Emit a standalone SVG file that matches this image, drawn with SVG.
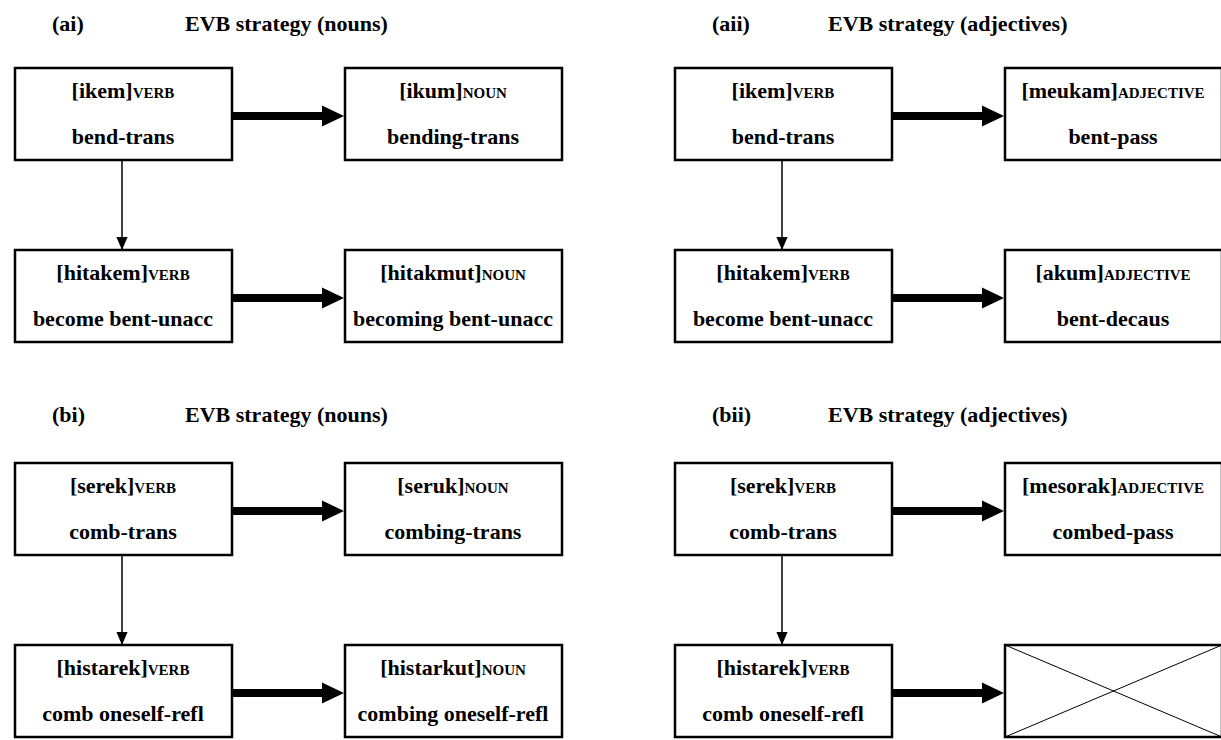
<svg xmlns="http://www.w3.org/2000/svg" width="1221" height="740" viewBox="0 0 1221 740">
<style>
text{font-family:"Liberation Serif","Times New Roman",serif;font-weight:bold;fill:#000}
.t{font-size:22px}
.b{font-size:22px;text-anchor:middle}
.s{font-size:15px}
.box{fill:#fff;stroke:#000;stroke-width:2.5}
.thin{stroke:#000;stroke-width:1.5;fill:none}
.x{stroke:#000;stroke-width:1;fill:none}
</style>
<defs>
<marker id="tri" markerWidth="13" markerHeight="15" refX="15" refY="6.5" viewBox="0 0 15 13" markerUnits="userSpaceOnUse" orient="auto"><path d="M0,0 L15,6.5 L0,13 Z" fill="#000"/></marker>
</defs>
<g id="titles">
<text class="t" x="52" y="31">(ai)</text>
<text class="t" x="185" y="31">EVB strategy (nouns)</text>
<text class="t" x="712" y="31">(aii)</text>
<text class="t" x="828" y="31">EVB strategy (adjectives)</text>
<text class="t" x="52" y="422">(bi)</text>
<text class="t" x="185" y="422">EVB strategy (nouns)</text>
<text class="t" x="712" y="422">(bii)</text>
<text class="t" x="828" y="422">EVB strategy (adjectives)</text>
</g>
<g id="connectors">
<path d="M232,112 H322 V105.5 L344,116 L322,126.5 V120 H232 Z"/>
<path d="M232,294 H322 V287.5 L344,298 L322,308.5 V302 H232 Z"/>
<path d="M892,112 H982 V105.5 L1004,116 L982,126.5 V120 H892 Z"/>
<path d="M892,294 H982 V287.5 L1004,298 L982,308.5 V302 H892 Z"/>
<path d="M232,507 H322 V500.5 L344,511 L322,521.5 V515 H232 Z"/>
<path d="M232,689 H322 V682.5 L344,693 L322,703.5 V697 H232 Z"/>
<path d="M892,507 H982 V500.5 L1004,511 L982,521.5 V515 H892 Z"/>
<path d="M892,689 H982 V682.5 L1004,693 L982,703.5 V697 H892 Z"/>
<line class="thin" x1="122" y1="160" x2="122" y2="250" marker-end="url(#tri)"/>
<line class="thin" x1="782" y1="160" x2="782" y2="250" marker-end="url(#tri)"/>
<line class="thin" x1="122" y1="555" x2="122" y2="645" marker-end="url(#tri)"/>
<line class="thin" x1="782" y1="555" x2="782" y2="645" marker-end="url(#tri)"/>
</g>
<g id="ai-verb"><rect class="box" x="15" y="68" width="217" height="92"/>
<text class="b" x="123" y="98">[ikem]<tspan class="s">VERB</tspan></text>
<text class="b" x="123" y="144">bend-trans</text></g>
<g id="ai-noun"><rect class="box" x="345" y="68" width="217" height="92"/>
<text class="b" x="453" y="98">[ikum]<tspan class="s">NOUN</tspan></text>
<text class="b" x="453" y="144">bending-trans</text></g>
<g id="ai-verb2"><rect class="box" x="15" y="250" width="217" height="92"/>
<text class="b" x="123" y="280">[hitakem]<tspan class="s">VERB</tspan></text>
<text class="b" x="123" y="326">become bent-unacc</text></g>
<g id="ai-noun2"><rect class="box" x="345" y="250" width="217" height="92"/>
<text class="b" x="453" y="280">[hitakmut]<tspan class="s">NOUN</tspan></text>
<text class="b" x="453" y="326">becoming bent-unacc</text></g>
<g id="aii-verb"><rect class="box" x="675" y="68" width="217" height="92"/>
<text class="b" x="783" y="98">[ikem]<tspan class="s">VERB</tspan></text>
<text class="b" x="783" y="144">bend-trans</text></g>
<g id="aii-adj"><rect class="box" x="1005" y="68" width="217" height="92"/>
<text class="b" x="1113" y="98">[meukam]<tspan class="s">ADJECTIVE</tspan></text>
<text class="b" x="1113" y="144">bent-pass</text></g>
<g id="aii-verb2"><rect class="box" x="675" y="250" width="217" height="92"/>
<text class="b" x="783" y="280">[hitakem]<tspan class="s">VERB</tspan></text>
<text class="b" x="783" y="326">become bent-unacc</text></g>
<g id="aii-adj2"><rect class="box" x="1005" y="250" width="217" height="92"/>
<text class="b" x="1113" y="280">[akum]<tspan class="s">ADJECTIVE</tspan></text>
<text class="b" x="1113" y="326">bent-decaus</text></g>
<g id="bi-verb"><rect class="box" x="15" y="463" width="217" height="92"/>
<text class="b" x="123" y="493">[serek]<tspan class="s">VERB</tspan></text>
<text class="b" x="123" y="539">comb-trans</text></g>
<g id="bi-noun"><rect class="box" x="345" y="463" width="217" height="92"/>
<text class="b" x="453" y="493">[seruk]<tspan class="s">NOUN</tspan></text>
<text class="b" x="453" y="539">combing-trans</text></g>
<g id="bi-verb2"><rect class="box" x="15" y="645" width="217" height="92"/>
<text class="b" x="123" y="675">[histarek]<tspan class="s">VERB</tspan></text>
<text class="b" x="123" y="721">comb oneself-refl</text></g>
<g id="bi-noun2"><rect class="box" x="345" y="645" width="217" height="92"/>
<text class="b" x="453" y="675">[histarkut]<tspan class="s">NOUN</tspan></text>
<text class="b" x="453" y="721">combing oneself-refl</text></g>
<g id="bii-verb"><rect class="box" x="675" y="463" width="217" height="92"/>
<text class="b" x="783" y="493">[serek]<tspan class="s">VERB</tspan></text>
<text class="b" x="783" y="539">comb-trans</text></g>
<g id="bii-adj"><rect class="box" x="1005" y="463" width="217" height="92"/>
<text class="b" x="1113" y="493">[mesorak]<tspan class="s">ADJECTIVE</tspan></text>
<text class="b" x="1113" y="539">combed-pass</text></g>
<g id="bii-verb2"><rect class="box" x="675" y="645" width="217" height="92"/>
<text class="b" x="783" y="675">[histarek]<tspan class="s">VERB</tspan></text>
<text class="b" x="783" y="721">comb oneself-refl</text></g>
<g id="bii-empty"><rect class="box" x="1005" y="645" width="217" height="92"/>
<line class="x" x1="1005" y1="645" x2="1222" y2="737"/>
<line class="x" x1="1005" y1="737" x2="1222" y2="645"/></g>
</svg>
